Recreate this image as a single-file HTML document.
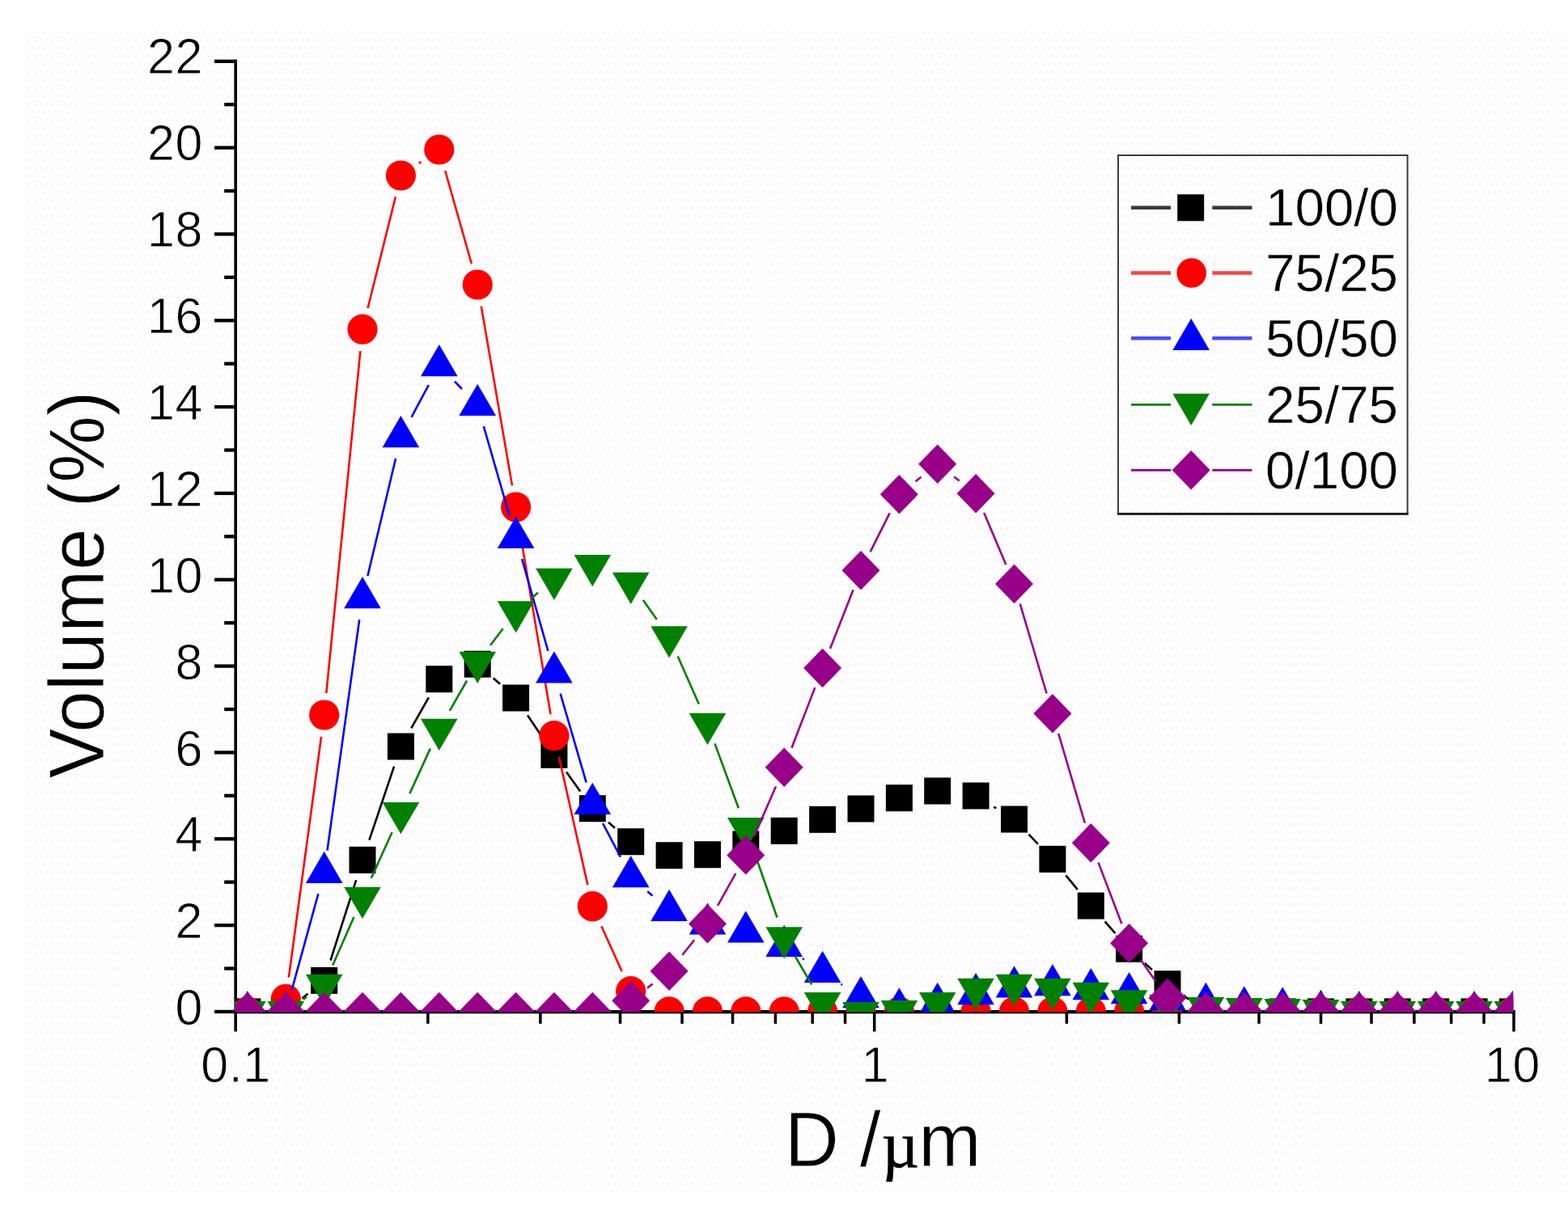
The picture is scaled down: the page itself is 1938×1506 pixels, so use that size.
<!DOCTYPE html>
<html lang="en"><head><meta charset="utf-8"><title>Volume (%) vs D /µm</title>
<style>html,body{margin:0;padding:0;background:#fff}body{width:1938px;height:1506px;overflow:hidden}svg{display:block}</style>
</head><body>
<svg width="1938" height="1506" viewBox="0 0 1938 1506" role="img" aria-label="Particle size distribution: Volume (%) versus D /µm">
<rect width="1938" height="1506" fill="#ffffff"/>
<defs><pattern id="dz" x="30" y="32" width="14.7" height="19.8" patternUnits="userSpaceOnUse"><rect width="14.7" height="19.8" fill="#fffefe"/><rect x="1.1" y="7.4" width="2.3" height="2.3" fill="#ffeef8"/><rect x="8.5" y="7.4" width="2.3" height="2.3" fill="#ffeef8"/><rect x="4.8" y="17.3" width="2.3" height="2.3" fill="#ffeef8"/><rect x="12.1" y="17.3" width="2.3" height="2.3" fill="#ffeef8"/><rect x="1.1" y="4.9" width="2.3" height="2.3" fill="#eefcff"/><rect x="10.9" y="12.3" width="2.3" height="2.3" fill="#eefcff"/><rect x="6.0" y="14.8" width="2.3" height="2.3" fill="#f0ffe4"/></pattern></defs>
<rect x="30" y="32" width="1908" height="1443" fill="url(#dz)"/>
<defs><clipPath id="pc"><rect x="290.0" y="40" width="1580.2" height="1211.3"/></clipPath></defs>
<g fill="#000"><rect x="289.40" y="73.65" width="3.6" height="1201.85"/><rect x="289.40" y="1248.95" width="1583.40" height="4.3"/><rect x="265.00" y="1248.75" width="26.20" height="4.3"/><rect x="277.20" y="1195.34" width="14.00" height="4.3"/><rect x="265.00" y="1141.92" width="26.20" height="4.3"/><rect x="277.20" y="1088.51" width="14.00" height="4.3"/><rect x="265.00" y="1035.10" width="26.20" height="4.3"/><rect x="277.20" y="981.68" width="14.00" height="4.3"/><rect x="265.00" y="928.27" width="26.20" height="4.3"/><rect x="277.20" y="874.85" width="14.00" height="4.3"/><rect x="265.00" y="821.44" width="26.20" height="4.3"/><rect x="277.20" y="768.03" width="14.00" height="4.3"/><rect x="265.00" y="714.61" width="26.20" height="4.3"/><rect x="277.20" y="661.20" width="14.00" height="4.3"/><rect x="265.00" y="607.79" width="26.20" height="4.3"/><rect x="277.20" y="554.37" width="14.00" height="4.3"/><rect x="265.00" y="500.96" width="26.20" height="4.3"/><rect x="277.20" y="447.55" width="14.00" height="4.3"/><rect x="265.00" y="394.13" width="26.20" height="4.3"/><rect x="277.20" y="340.72" width="14.00" height="4.3"/><rect x="265.00" y="287.30" width="26.20" height="4.3"/><rect x="277.20" y="233.89" width="14.00" height="4.3"/><rect x="265.00" y="180.48" width="26.20" height="4.3"/><rect x="277.20" y="127.06" width="14.00" height="4.3"/><rect x="265.00" y="73.65" width="26.20" height="4.3"/><rect x="527.11" y="1250.90" width="3.5" height="14.9"/><rect x="666.14" y="1250.90" width="3.5" height="14.9"/><rect x="764.78" y="1250.90" width="3.5" height="14.9"/><rect x="841.29" y="1250.90" width="3.5" height="14.9"/><rect x="903.80" y="1250.90" width="3.5" height="14.9"/><rect x="956.65" y="1250.90" width="3.5" height="14.9"/><rect x="1002.44" y="1250.90" width="3.5" height="14.9"/><rect x="1042.82" y="1250.90" width="3.5" height="14.9"/><rect x="1316.61" y="1250.90" width="3.5" height="14.9"/><rect x="1455.64" y="1250.90" width="3.5" height="14.9"/><rect x="1554.28" y="1250.90" width="3.5" height="14.9"/><rect x="1630.79" y="1250.90" width="3.5" height="14.9"/><rect x="1693.30" y="1250.90" width="3.5" height="14.9"/><rect x="1746.15" y="1250.90" width="3.5" height="14.9"/><rect x="1791.94" y="1250.90" width="3.5" height="14.9"/><rect x="1832.32" y="1250.90" width="3.5" height="14.9"/><rect x="1078.95" y="1250.90" width="3.5" height="24.6"/><rect x="1869.25" y="1250.90" width="3.5" height="24.6"/></g>
<g clip-path="url(#pc)">
<path d="M373.4,1234.5L380.5,1228.7M408.5,1187.5L440.2,1088.1M456.4,1038.7L487.1,947.6M508.3,900.4L529.9,862.3M609.7,838.4L618.1,845.8M652.1,884.6L670.4,911.7M700.0,954.5L717.2,978.5M752.0,1016.7L760.0,1023.7M1228.3,997.6L1231.3,999.4M1271.5,1031.7L1282.9,1043.6M1317.4,1082.4L1331.8,1099.9M1365.6,1139.4L1378.3,1153.8M1414.8,1190.8L1423.9,1199.1M1464.1,1231.9L1469.3,1235.7" stroke="#000000" stroke-width="2.6" fill="none"/>
<rect x="289.4" y="1234.4" width="33.0" height="33.0" fill="#000000"/>
<rect x="336.8" y="1234.4" width="33.0" height="33.0" fill="#000000"/>
<rect x="384.2" y="1195.8" width="33.0" height="33.0" fill="#000000"/>
<rect x="431.5" y="1046.8" width="33.0" height="33.0" fill="#000000"/>
<rect x="478.9" y="906.5" width="33.0" height="33.0" fill="#000000"/>
<rect x="526.3" y="823.2" width="33.0" height="33.0" fill="#000000"/>
<rect x="573.7" y="804.7" width="33.0" height="33.0" fill="#000000"/>
<rect x="621.1" y="846.5" width="33.0" height="33.0" fill="#000000"/>
<rect x="668.4" y="916.8" width="33.0" height="33.0" fill="#000000"/>
<rect x="715.8" y="983.2" width="33.0" height="33.0" fill="#000000"/>
<rect x="763.2" y="1024.2" width="33.0" height="33.0" fill="#000000"/>
<rect x="810.6" y="1041.2" width="33.0" height="33.0" fill="#000000"/>
<rect x="858.0" y="1040.2" width="33.0" height="33.0" fill="#000000"/>
<rect x="905.3" y="1027.5" width="33.0" height="33.0" fill="#000000"/>
<rect x="952.7" y="1010.8" width="33.0" height="33.0" fill="#000000"/>
<rect x="1000.1" y="996.8" width="33.0" height="33.0" fill="#000000"/>
<rect x="1047.5" y="983.5" width="33.0" height="33.0" fill="#000000"/>
<rect x="1094.9" y="970.2" width="33.0" height="33.0" fill="#000000"/>
<rect x="1142.2" y="961.5" width="33.0" height="33.0" fill="#000000"/>
<rect x="1189.6" y="967.5" width="33.0" height="33.0" fill="#000000"/>
<rect x="1237.0" y="996.5" width="33.0" height="33.0" fill="#000000"/>
<rect x="1284.4" y="1045.8" width="33.0" height="33.0" fill="#000000"/>
<rect x="1331.8" y="1103.5" width="33.0" height="33.0" fill="#000000"/>
<rect x="1379.1" y="1156.7" width="33.0" height="33.0" fill="#000000"/>
<rect x="1426.5" y="1200.2" width="33.0" height="33.0" fill="#000000"/>
<rect x="1473.9" y="1234.4" width="33.0" height="33.0" fill="#000000"/>
<rect x="1521.3" y="1234.4" width="33.0" height="33.0" fill="#000000"/>
<rect x="1568.7" y="1234.4" width="33.0" height="33.0" fill="#000000"/>
<rect x="1616.0" y="1234.4" width="33.0" height="33.0" fill="#000000"/>
<rect x="1663.4" y="1234.4" width="33.0" height="33.0" fill="#000000"/>
<rect x="1710.8" y="1234.4" width="33.0" height="33.0" fill="#000000"/>
<rect x="1758.2" y="1234.4" width="33.0" height="33.0" fill="#000000"/>
<rect x="1805.6" y="1234.4" width="33.0" height="33.0" fill="#000000"/>
<rect x="1852.9" y="1234.4" width="33.0" height="33.0" fill="#000000"/>
<path d="M356.9,1208.5L397.1,910.8M403.3,857.1L445.4,434.1M454.6,381.0L488.9,243.2M517.8,201.9L520.4,200.1M550.2,211.0L582.8,326.0M594.8,378.6L633.0,600.4M642.0,653.6L680.5,883.1M690.9,936.0L726.4,1094.4M743.4,1145.3L768.6,1201.1" stroke="#ff0000" stroke-width="2.6" fill="none"/>
<circle cx="305.9" cy="1250.9" r="18.6" fill="#ff0000"/>
<circle cx="353.3" cy="1235.3" r="18.6" fill="#ff0000"/>
<circle cx="400.7" cy="884.0" r="18.6" fill="#ff0000"/>
<circle cx="448.0" cy="407.2" r="18.6" fill="#ff0000"/>
<circle cx="495.4" cy="217.0" r="18.6" fill="#ff0000"/>
<circle cx="542.8" cy="185.0" r="18.6" fill="#ff0000"/>
<circle cx="590.2" cy="352.0" r="18.6" fill="#ff0000"/>
<circle cx="637.6" cy="627.0" r="18.6" fill="#ff0000"/>
<circle cx="684.9" cy="909.7" r="18.6" fill="#ff0000"/>
<circle cx="732.3" cy="1120.7" r="18.6" fill="#ff0000"/>
<circle cx="779.7" cy="1225.7" r="18.6" fill="#ff0000"/>
<circle cx="827.1" cy="1250.9" r="18.6" fill="#ff0000"/>
<circle cx="874.5" cy="1250.9" r="18.6" fill="#ff0000"/>
<circle cx="921.8" cy="1250.9" r="18.6" fill="#ff0000"/>
<circle cx="969.2" cy="1250.9" r="18.6" fill="#ff0000"/>
<circle cx="1016.6" cy="1250.9" r="18.6" fill="#ff0000"/>
<circle cx="1064.0" cy="1250.9" r="18.6" fill="#ff0000"/>
<circle cx="1111.4" cy="1250.9" r="18.6" fill="#ff0000"/>
<circle cx="1158.7" cy="1250.9" r="18.6" fill="#ff0000"/>
<circle cx="1206.1" cy="1250.9" r="18.6" fill="#ff0000"/>
<circle cx="1253.5" cy="1250.9" r="18.6" fill="#ff0000"/>
<circle cx="1300.9" cy="1250.9" r="18.6" fill="#ff0000"/>
<circle cx="1348.3" cy="1250.9" r="18.6" fill="#ff0000"/>
<circle cx="1395.6" cy="1250.9" r="18.6" fill="#ff0000"/>
<circle cx="1443.0" cy="1250.9" r="18.6" fill="#ff0000"/>
<circle cx="1490.4" cy="1250.9" r="18.6" fill="#ff0000"/>
<circle cx="1537.8" cy="1250.9" r="18.6" fill="#ff0000"/>
<circle cx="1585.2" cy="1250.9" r="18.6" fill="#ff0000"/>
<circle cx="1632.5" cy="1250.9" r="18.6" fill="#ff0000"/>
<circle cx="1679.9" cy="1250.9" r="18.6" fill="#ff0000"/>
<circle cx="1727.3" cy="1250.9" r="18.6" fill="#ff0000"/>
<circle cx="1774.7" cy="1250.9" r="18.6" fill="#ff0000"/>
<circle cx="1822.1" cy="1250.9" r="18.6" fill="#ff0000"/>
<circle cx="1869.4" cy="1250.9" r="18.6" fill="#ff0000"/>
<path d="M360.6,1224.4L393.4,1105.2M404.5,1051.5L444.2,766.2M454.4,712.2L489.1,566.8M508.5,515.8L529.8,476.2M562.0,471.7L571.0,481.0M597.8,527.1L629.9,638.3M645.1,691.2L677.4,804.8M692.6,857.7L724.6,967.3M745.1,1018.1L766.9,1059.6M800.3,1102.2L806.4,1107.5M992.0,1185.1L993.8,1186.3M1039.5,1216.9L1041.0,1217.8" stroke="#0000ff" stroke-width="2.6" fill="none"/>
<polygon points="305.9,1224.9 328.7,1264.1 283.1,1264.1" fill="#0000ff"/>
<polygon points="353.3,1224.9 376.1,1264.1 330.5,1264.1" fill="#0000ff"/>
<polygon points="400.7,1052.7 423.5,1091.9 377.9,1091.9" fill="#0000ff"/>
<polygon points="448.0,713.0 470.8,752.2 425.2,752.2" fill="#0000ff"/>
<polygon points="495.4,514.0 518.2,553.2 472.6,553.2" fill="#0000ff"/>
<polygon points="542.8,426.0 565.6,465.2 520.0,465.2" fill="#0000ff"/>
<polygon points="590.2,474.7 613.0,513.9 567.4,513.9" fill="#0000ff"/>
<polygon points="637.6,638.7 660.4,677.9 614.8,677.9" fill="#0000ff"/>
<polygon points="684.9,805.3 707.7,844.5 662.1,844.5" fill="#0000ff"/>
<polygon points="732.3,967.7 755.1,1006.9 709.5,1006.9" fill="#0000ff"/>
<polygon points="779.7,1058.0 802.5,1097.2 756.9,1097.2" fill="#0000ff"/>
<polygon points="827.1,1099.7 849.9,1138.9 804.3,1138.9" fill="#0000ff"/>
<polygon points="874.5,1116.3 897.3,1155.5 851.7,1155.5" fill="#0000ff"/>
<polygon points="921.8,1126.3 944.6,1165.5 899.0,1165.5" fill="#0000ff"/>
<polygon points="969.2,1143.7 992.0,1182.9 946.4,1182.9" fill="#0000ff"/>
<polygon points="1016.6,1175.7 1039.4,1214.9 993.8,1214.9" fill="#0000ff"/>
<polygon points="1064.0,1207.0 1086.8,1246.2 1041.2,1246.2" fill="#0000ff"/>
<polygon points="1111.4,1221.3 1134.2,1260.5 1088.6,1260.5" fill="#0000ff"/>
<polygon points="1158.7,1214.7 1181.5,1253.9 1135.9,1253.9" fill="#0000ff"/>
<polygon points="1206.1,1203.0 1228.9,1242.2 1183.3,1242.2" fill="#0000ff"/>
<polygon points="1253.5,1194.3 1276.3,1233.5 1230.7,1233.5" fill="#0000ff"/>
<polygon points="1300.9,1192.0 1323.7,1231.2 1278.1,1231.2" fill="#0000ff"/>
<polygon points="1348.3,1197.0 1371.1,1236.2 1325.5,1236.2" fill="#0000ff"/>
<polygon points="1395.6,1202.0 1418.4,1241.2 1372.8,1241.2" fill="#0000ff"/>
<polygon points="1443.0,1210.3 1465.8,1249.5 1420.2,1249.5" fill="#0000ff"/>
<polygon points="1490.4,1214.7 1513.2,1253.9 1467.6,1253.9" fill="#0000ff"/>
<polygon points="1537.8,1219.3 1560.6,1258.5 1515.0,1258.5" fill="#0000ff"/>
<polygon points="1585.2,1220.3 1608.0,1259.5 1562.4,1259.5" fill="#0000ff"/>
<polygon points="1632.5,1223.7 1655.3,1262.9 1609.7,1262.9" fill="#0000ff"/>
<polygon points="1679.9,1224.9 1702.7,1264.1 1657.1,1264.1" fill="#0000ff"/>
<polygon points="1727.3,1224.9 1750.1,1264.1 1704.5,1264.1" fill="#0000ff"/>
<polygon points="1774.7,1224.9 1797.5,1264.1 1751.9,1264.1" fill="#0000ff"/>
<polygon points="1822.1,1224.9 1844.9,1264.1 1799.3,1264.1" fill="#0000ff"/>
<polygon points="1869.4,1224.9 1892.2,1264.1 1846.6,1264.1" fill="#0000ff"/>
<path d="M374.8,1235.8L379.1,1232.8M411.2,1193.6L437.5,1133.8M458.9,1085.7L484.6,1029.0M506.4,981.1L531.8,925.6M555.8,878.9L577.1,841.5M606.1,797.8L621.7,777.2M657.5,739.2L665.0,732.8M794.9,742.1L811.8,765.9M837.7,811.4L863.8,870.6M883.5,919.4L912.8,999.3M930.5,1048.8L960.5,1134.5M982.5,1182.0L1003.3,1217.3" stroke="#008000" stroke-width="2.6" fill="none"/>
<polygon points="305.9,1277.1 328.7,1237.9 283.1,1237.9" fill="#008000"/>
<polygon points="353.3,1277.1 376.1,1237.9 330.5,1237.9" fill="#008000"/>
<polygon points="400.7,1243.9 423.5,1204.7 377.9,1204.7" fill="#008000"/>
<polygon points="448.0,1135.9 470.8,1096.7 425.2,1096.7" fill="#008000"/>
<polygon points="495.4,1031.2 518.2,992.0 472.6,992.0" fill="#008000"/>
<polygon points="542.8,927.9 565.6,888.7 520.0,888.7" fill="#008000"/>
<polygon points="590.2,844.9 613.0,805.7 567.4,805.7" fill="#008000"/>
<polygon points="637.6,782.5 660.4,743.3 614.8,743.3" fill="#008000"/>
<polygon points="684.9,741.9 707.7,702.7 662.1,702.7" fill="#008000"/>
<polygon points="732.3,725.2 755.1,686.0 709.5,686.0" fill="#008000"/>
<polygon points="779.7,746.9 802.5,707.7 756.9,707.7" fill="#008000"/>
<polygon points="827.1,813.5 849.9,774.3 804.3,774.3" fill="#008000"/>
<polygon points="874.5,920.9 897.3,881.7 851.7,881.7" fill="#008000"/>
<polygon points="921.8,1050.2 944.6,1011.0 899.0,1011.0" fill="#008000"/>
<polygon points="969.2,1185.5 992.0,1146.3 946.4,1146.3" fill="#008000"/>
<polygon points="1016.6,1266.2 1039.4,1227.0 993.8,1227.0" fill="#008000"/>
<polygon points="1064.0,1278.2 1086.8,1239.0 1041.2,1239.0" fill="#008000"/>
<polygon points="1111.4,1276.2 1134.2,1237.0 1088.6,1237.0" fill="#008000"/>
<polygon points="1158.7,1266.2 1181.5,1227.0 1135.9,1227.0" fill="#008000"/>
<polygon points="1206.1,1248.9 1228.9,1209.7 1183.3,1209.7" fill="#008000"/>
<polygon points="1253.5,1243.9 1276.3,1204.7 1230.7,1204.7" fill="#008000"/>
<polygon points="1300.9,1248.9 1323.7,1209.7 1278.1,1209.7" fill="#008000"/>
<polygon points="1348.3,1253.9 1371.1,1214.7 1325.5,1214.7" fill="#008000"/>
<polygon points="1395.6,1263.5 1418.4,1224.3 1372.8,1224.3" fill="#008000"/>
<polygon points="1443.0,1268.9 1465.8,1229.7 1420.2,1229.7" fill="#008000"/>
<polygon points="1490.4,1272.2 1513.2,1233.0 1467.6,1233.0" fill="#008000"/>
<polygon points="1537.8,1273.2 1560.6,1234.0 1515.0,1234.0" fill="#008000"/>
<polygon points="1585.2,1274.2 1608.0,1235.0 1562.4,1235.0" fill="#008000"/>
<polygon points="1632.5,1275.2 1655.3,1236.0 1609.7,1236.0" fill="#008000"/>
<polygon points="1679.9,1277.1 1702.7,1237.9 1657.1,1237.9" fill="#008000"/>
<polygon points="1727.3,1277.1 1750.1,1237.9 1704.5,1237.9" fill="#008000"/>
<polygon points="1774.7,1277.1 1797.5,1237.9 1751.9,1237.9" fill="#008000"/>
<polygon points="1822.1,1277.1 1844.9,1237.9 1799.3,1237.9" fill="#008000"/>
<polygon points="1869.4,1277.1 1892.2,1237.9 1846.6,1237.9" fill="#008000"/>
<path d="M800.1,1221.5L806.7,1216.5M843.3,1180.7L858.2,1162.3M887.0,1119.8L909.3,1079.9M932.2,1033.8L958.9,972.4M978.5,924.7L1007.3,850.1M1026.0,802.0L1054.6,729.3M1075.6,682.3L1099.7,634.3M1131.6,595.3L1138.5,589.7M1179.2,589.5L1185.7,594.5M1216.2,634.1L1243.4,698.2M1260.8,746.7L1293.6,857.5M1308.2,906.9L1340.9,1017.6M1357.5,1066.4L1386.4,1142.2M1410.4,1187.4L1428.2,1212.9" stroke="#98008a" stroke-width="2.6" fill="none"/>
<polygon points="305.9,1226.7 329.4,1250.9 305.9,1275.1 282.4,1250.9" fill="#98008a"/>
<polygon points="353.3,1226.7 376.8,1250.9 353.3,1275.1 329.8,1250.9" fill="#98008a"/>
<polygon points="400.7,1226.7 424.2,1250.9 400.7,1275.1 377.2,1250.9" fill="#98008a"/>
<polygon points="448.0,1226.7 471.5,1250.9 448.0,1275.1 424.5,1250.9" fill="#98008a"/>
<polygon points="495.4,1226.7 518.9,1250.9 495.4,1275.1 471.9,1250.9" fill="#98008a"/>
<polygon points="542.8,1226.7 566.3,1250.9 542.8,1275.1 519.3,1250.9" fill="#98008a"/>
<polygon points="590.2,1226.7 613.7,1250.9 590.2,1275.1 566.7,1250.9" fill="#98008a"/>
<polygon points="637.6,1226.7 661.1,1250.9 637.6,1275.1 614.1,1250.9" fill="#98008a"/>
<polygon points="684.9,1226.7 708.4,1250.9 684.9,1275.1 661.4,1250.9" fill="#98008a"/>
<polygon points="732.3,1226.7 755.8,1250.9 732.3,1275.1 708.8,1250.9" fill="#98008a"/>
<polygon points="779.7,1213.1 803.2,1237.3 779.7,1261.5 756.2,1237.3" fill="#98008a"/>
<polygon points="827.1,1176.5 850.6,1200.7 827.1,1224.9 803.6,1200.7" fill="#98008a"/>
<polygon points="874.5,1118.1 898.0,1142.3 874.5,1166.5 851.0,1142.3" fill="#98008a"/>
<polygon points="921.8,1033.2 945.3,1057.4 921.8,1081.6 898.3,1057.4" fill="#98008a"/>
<polygon points="969.2,924.6 992.7,948.8 969.2,973.0 945.7,948.8" fill="#98008a"/>
<polygon points="1016.6,801.8 1040.1,826.0 1016.6,850.2 993.1,826.0" fill="#98008a"/>
<polygon points="1064.0,681.1 1087.5,705.3 1064.0,729.5 1040.5,705.3" fill="#98008a"/>
<polygon points="1111.4,587.1 1134.9,611.3 1111.4,635.5 1087.9,611.3" fill="#98008a"/>
<polygon points="1158.7,549.5 1182.2,573.7 1158.7,597.9 1135.2,573.7" fill="#98008a"/>
<polygon points="1206.1,586.1 1229.6,610.3 1206.1,634.5 1182.6,610.3" fill="#98008a"/>
<polygon points="1253.5,697.8 1277.0,722.0 1253.5,746.2 1230.0,722.0" fill="#98008a"/>
<polygon points="1300.9,858.0 1324.4,882.2 1300.9,906.4 1277.4,882.2" fill="#98008a"/>
<polygon points="1348.3,1018.1 1371.8,1042.3 1348.3,1066.5 1324.8,1042.3" fill="#98008a"/>
<polygon points="1395.6,1142.1 1419.1,1166.3 1395.6,1190.5 1372.1,1166.3" fill="#98008a"/>
<polygon points="1443.0,1209.8 1466.5,1234.0 1443.0,1258.2 1419.5,1234.0" fill="#98008a"/>
<polygon points="1490.4,1226.7 1513.9,1250.9 1490.4,1275.1 1466.9,1250.9" fill="#98008a"/>
<polygon points="1537.8,1226.7 1561.3,1250.9 1537.8,1275.1 1514.3,1250.9" fill="#98008a"/>
<polygon points="1585.2,1226.7 1608.7,1250.9 1585.2,1275.1 1561.7,1250.9" fill="#98008a"/>
<polygon points="1632.5,1226.7 1656.0,1250.9 1632.5,1275.1 1609.0,1250.9" fill="#98008a"/>
<polygon points="1679.9,1226.7 1703.4,1250.9 1679.9,1275.1 1656.4,1250.9" fill="#98008a"/>
<polygon points="1727.3,1226.7 1750.8,1250.9 1727.3,1275.1 1703.8,1250.9" fill="#98008a"/>
<polygon points="1774.7,1226.7 1798.2,1250.9 1774.7,1275.1 1751.2,1250.9" fill="#98008a"/>
<polygon points="1822.1,1226.7 1845.6,1250.9 1822.1,1275.1 1798.6,1250.9" fill="#98008a"/>
<polygon points="1869.4,1226.7 1892.9,1250.9 1869.4,1275.1 1845.9,1250.9" fill="#98008a"/>
</g>
<g font-family="'Liberation Sans', Arial, Helvetica, sans-serif" font-size="61" letter-spacing="0.6" fill="#000" stroke="#ffffff" stroke-width="0.8" stroke-linejoin="round">
<text transform="translate(251.0,1267.3) scale(1,1.025)" text-anchor="end">0</text>
<text transform="translate(251.0,1160.4) scale(1,1.025)" text-anchor="end">2</text>
<text transform="translate(251.0,1053.4) scale(1,1.025)" text-anchor="end">4</text>
<text transform="translate(251.0,946.5) scale(1,1.025)" text-anchor="end">6</text>
<text transform="translate(251.0,839.5) scale(1,1.025)" text-anchor="end">8</text>
<text transform="translate(251.0,732.6) scale(1,1.025)" text-anchor="end">10</text>
<text transform="translate(251.0,625.6) scale(1,1.025)" text-anchor="end">12</text>
<text transform="translate(251.0,518.7) scale(1,1.025)" text-anchor="end">14</text>
<text transform="translate(251.0,411.7) scale(1,1.025)" text-anchor="end">16</text>
<text transform="translate(251.0,304.8) scale(1,1.025)" text-anchor="end">18</text>
<text transform="translate(251.0,197.8) scale(1,1.025)" text-anchor="end">20</text>
<text transform="translate(251.0,90.9) scale(1,1.025)" text-anchor="end">22</text>
<text transform="translate(291.5,1337.6) scale(1,1.025)" text-anchor="middle">0.1</text>
<text transform="translate(1081.9,1337.6) scale(1,1.025)" text-anchor="middle">1</text>
<text transform="translate(1869.5,1337.6) scale(1,1.025)" text-anchor="middle">10</text>
</g>
<text transform="translate(128.3,962.5) rotate(-90) scale(1,1.04)" font-family="'Liberation Sans', Arial, Helvetica, sans-serif" font-size="92.7" fill="#000" stroke="#ffffff" stroke-width="0.8" stroke-linejoin="round">Volume (%)</text>
<g font-family="'Liberation Sans', Arial, Helvetica, sans-serif" font-size="93" fill="#000" stroke="#ffffff" stroke-width="0.8" stroke-linejoin="round">
<text transform="translate(969.8,1442.4) scale(1,1.04)" xml:space="preserve">D /</text>
<text transform="translate(1089.8,1442.6) scale(1,1.02)" font-family="'Liberation Serif', 'DejaVu Serif', serif" font-size="80" stroke="#000" stroke-width="0.6">µ</text>
<text transform="translate(1135.3,1442.4) scale(1,1.0)">m</text>
</g>
<rect x="1382" y="192" width="357.5999999999999" height="443.20000000000005" fill="none" stroke="#3c3c3c" stroke-width="2"/>
<rect x="1381" y="634.0" width="359.5999999999999" height="2.8" fill="#1a1a1a"/>
<g font-family="'Liberation Sans', Arial, Helvetica, sans-serif" font-size="65.5" fill="#000" stroke="#fefefe" stroke-width="0.5" text-anchor="end">
<path d="M1398,256.8H1447M1498.3,256.8H1547.5" stroke="#3a3a3a" stroke-width="4.4"/>
<rect x="1455.2" y="240.3" width="33.0" height="33.0" stroke="none" fill="#000000"/>
<text x="1728" y="279.1">100/0</text>
<path d="M1398,337.5H1447M1498.3,337.5H1547.5" stroke="#ff4040" stroke-width="4.6"/>
<circle cx="1472.7" cy="337.5" r="18.3" stroke="none" fill="#ff0000"/>
<text x="1728" y="359.8">75/25</text>
<path d="M1398,418.3H1447M1498.3,418.3H1547.5" stroke="#4c4cff" stroke-width="4.6"/>
<polygon points="1472.2,393.7 1495.0,432.9 1449.4,432.9" stroke="none" fill="#0000ff"/>
<text x="1728" y="440.6">50/50</text>
<path d="M1398,500.4H1447M1498.3,500.4H1547.5" stroke="#008000" stroke-width="2.9"/>
<polygon points="1472.2,525.9 1495.0,486.7 1449.4,486.7" stroke="none" fill="#008000"/>
<text x="1728" y="522.7">25/75</text>
<path d="M1398,581.3H1447M1498.3,581.3H1547.5" stroke="#98008a" stroke-width="2.8"/>
<polygon points="1472.2,557.1 1495.7,581.3 1472.2,605.5 1448.7,581.3" stroke="none" fill="#98008a"/>
<text x="1728" y="603.6">0/100</text>
</g>
</svg>
</body></html>
